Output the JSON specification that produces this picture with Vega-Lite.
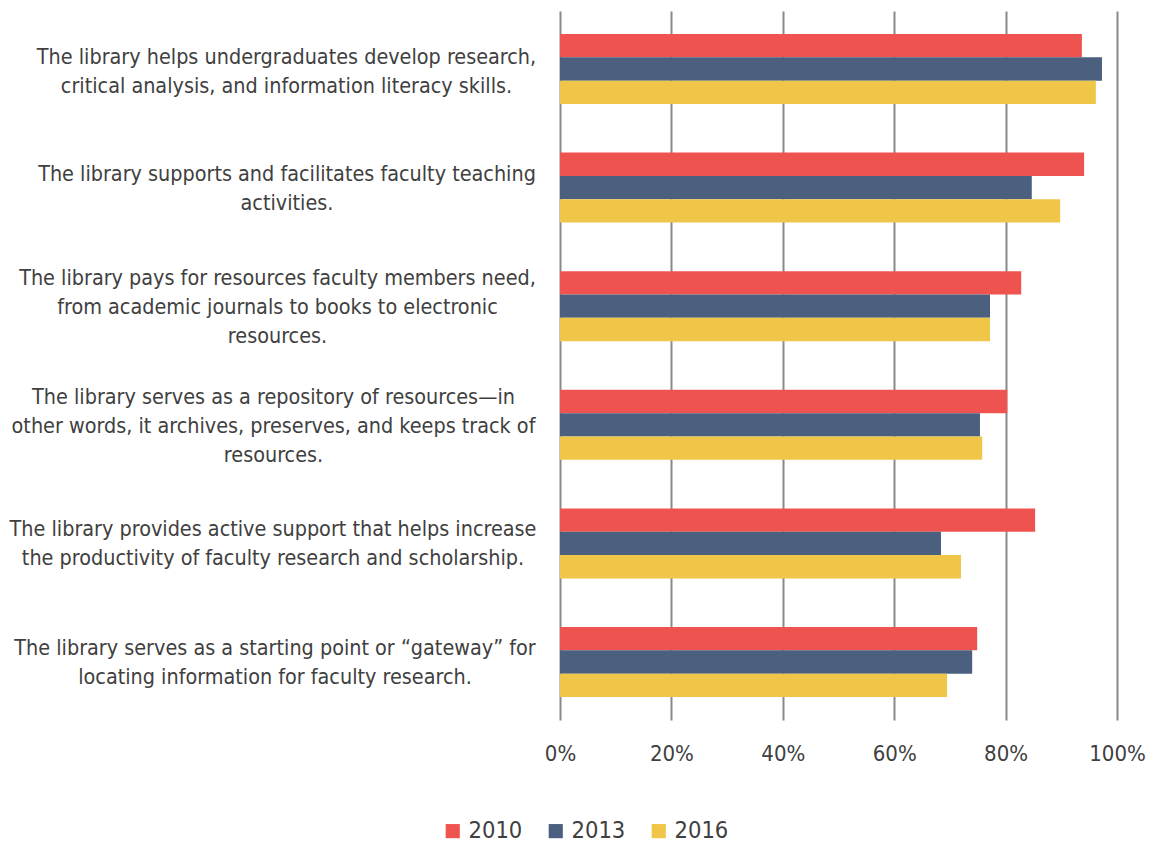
{
  "$schema": "https://vega.github.io/schema/vega-lite/v6.json",
  "width": 557,
  "height": 709,
  "autosize": {"type": "none"},
  "padding": {"left": 560, "top": 11, "right": 32, "bottom": 126},
  "background": "white",
  "config": {
    "view": {"stroke": null},
    "font": "DejaVu Sans Condensed, Roboto, sans-serif"
  },
  "data": {
    "values": [
      {"statement": "The library helps undergraduates develop research,\ncritical analysis, and information literacy skills.", "year": "2010", "share": 0.937},
      {"statement": "The library helps undergraduates develop research,\ncritical analysis, and information literacy skills.", "year": "2013", "share": 0.973},
      {"statement": "The library helps undergraduates develop research,\ncritical analysis, and information literacy skills.", "year": "2016", "share": 0.962},
      {"statement": "The library supports and facilitates faculty teaching\nactivities.", "year": "2010", "share": 0.941},
      {"statement": "The library supports and facilitates faculty teaching\nactivities.", "year": "2013", "share": 0.847},
      {"statement": "The library supports and facilitates faculty teaching\nactivities.", "year": "2016", "share": 0.898},
      {"statement": "The library pays for resources faculty members need,\nfrom academic journals to books to electronic\nresources.", "year": "2010", "share": 0.828},
      {"statement": "The library pays for resources faculty members need,\nfrom academic journals to books to electronic\nresources.", "year": "2013", "share": 0.772},
      {"statement": "The library pays for resources faculty members need,\nfrom academic journals to books to electronic\nresources.", "year": "2016", "share": 0.772},
      {"statement": "The library serves as a repository of resources—in\nother words, it archives, preserves, and keeps track of\nresources.", "year": "2010", "share": 0.803},
      {"statement": "The library serves as a repository of resources—in\nother words, it archives, preserves, and keeps track of\nresources.", "year": "2013", "share": 0.754},
      {"statement": "The library serves as a repository of resources—in\nother words, it archives, preserves, and keeps track of\nresources.", "year": "2016", "share": 0.758},
      {"statement": "The library provides active support that helps increase\nthe productivity of faculty research and scholarship.", "year": "2010", "share": 0.853},
      {"statement": "The library provides active support that helps increase\nthe productivity of faculty research and scholarship.", "year": "2013", "share": 0.684},
      {"statement": "The library provides active support that helps increase\nthe productivity of faculty research and scholarship.", "year": "2016", "share": 0.720},
      {"statement": "The library serves as a starting point or “gateway” for\nlocating information for faculty research.", "year": "2010", "share": 0.749},
      {"statement": "The library serves as a starting point or “gateway” for\nlocating information for faculty research.", "year": "2013", "share": 0.740},
      {"statement": "The library serves as a starting point or “gateway” for\nlocating information for faculty research.", "year": "2016", "share": 0.695}
    ]
  },
  "mark": {"type": "bar"},
  "encoding": {
    "y": {
      "field": "statement",
      "type": "nominal",
      "sort": null,
      "scale": {"paddingInner": 0.41, "paddingOuter": 0.194},
      "axis": {
        "title": null,
        "domain": false,
        "ticks": false,
        "tickSize": 0,
        "grid": false,
        "labelExpr": "split(datum.label, '\\n')",
        "labelAlign": "center",
        "labelBaseline": "middle",
        "labelFontSize": 21.4,
        "labelLineHeight": 29,
        "labelColor": "#404040",
        "labelLimit": 0,
        "labelOffset": {
          "condition": [
            {"test": "datum.value === 'The library helps undergraduates develop research,\\ncritical analysis, and information literacy skills.'", "value": -11},
            {"test": "datum.value === 'The library pays for resources faculty members need,\\nfrom academic journals to books to electronic\\nresources.'", "value": -27},
            {"test": "datum.value === 'The library serves as a repository of resources—in\\nother words, it archives, preserves, and keeps track of\\nresources.'", "value": -27}
          ],
          "value": -13
        },
        "labelPadding": {
          "condition": [
            {"test": "datum.value === 'The library helps undergraduates develop research,\\ncritical analysis, and information literacy skills.'", "value": 274},
            {"test": "datum.value === 'The library supports and facilitates faculty teaching\\nactivities.'", "value": 273.5},
            {"test": "datum.value === 'The library pays for resources faculty members need,\\nfrom academic journals to books to electronic\\nresources.'", "value": 283},
            {"test": "datum.value === 'The library serves as a repository of resources—in\\nother words, it archives, preserves, and keeps track of\\nresources.'", "value": 287},
            {"test": "datum.value === 'The library provides active support that helps increase\\nthe productivity of faculty research and scholarship.'", "value": 287.5}
          ],
          "value": 285.5
        }
      }
    },
    "yOffset": {
      "field": "year",
      "type": "nominal",
      "scale": {"paddingInner": 0, "paddingOuter": 0}
    },
    "x": {
      "field": "share",
      "type": "quantitative",
      "scale": {"domain": [0, 1], "nice": false},
      "axis": {
        "title": null,
        "format": ".0%",
        "values": [0, 0.2, 0.4, 0.6, 0.8, 1],
        "domain": false,
        "ticks": false,
        "tickSize": 0,
        "labelPadding": 23,
        "labelFontSize": 22,
        "labelColor": "#404040",
        "labelFlush": false,
        "grid": true,
        "gridColor": "#898989",
        "gridWidth": 2
      }
    },
    "color": {
      "field": "year",
      "type": "nominal",
      "scale": {"domain": ["2010", "2013", "2016"], "range": ["#EF5350", "#4B607F", "#F0C648"]},
      "legend": {
        "title": null,
        "orient": "none",
        "direction": "horizontal",
        "legendX": -119,
        "legendY": 808,
        "symbolType": "square",
        "symbolSize": 200,
        "symbolStrokeWidth": 0,
        "labelFontSize": 23.5,
        "labelColor": "#404040",
        "labelOffset": 4,
        "columnPadding": 21
      }
    }
  }
}
